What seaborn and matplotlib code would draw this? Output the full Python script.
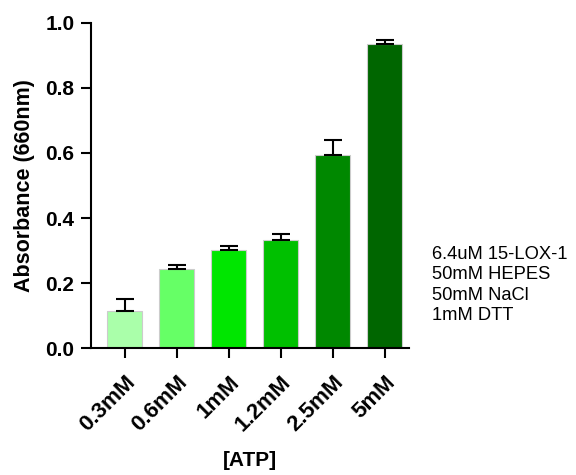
import matplotlib
matplotlib.use("Agg")
import matplotlib.pyplot as plt
import seaborn as sns
import pandas as pd

# data
conc = ["0.3mM", "0.6mM", "1mM", "1.2mM", "2.5mM", "5mM"]
absorb = [0.115, 0.242, 0.302, 0.331, 0.594, 0.935]
err = [0.035, 0.013, 0.012, 0.020, 0.046, 0.013]
bar_colors = ["#aaffaa", "#66ff66", "#00e600", "#00c000", "#008800", "#006600"]
buffer_lines = ["6.4uM 15-LOX-1", "50mM HEPES", "50mM NaCl", "1mM DTT"]

df = pd.DataFrame({"conc": conc, "abs": absorb})

sns.set_style("ticks")
plt.rcParams["font.family"] = ["Liberation Sans", "DejaVu Sans"]
for k in ["text.color", "axes.labelcolor", "xtick.color", "ytick.color", "axes.edgecolor"]:
    plt.rcParams[k] = "black"

fig = plt.figure(figsize=(5.76, 4.75), dpi=100)
ax = fig.add_axes([0.158, 0.267, 0.552, 0.685])

sns.barplot(data=df, x="conc", y="abs", hue="conc", palette=bar_colors,
            saturation=1, legend=False, width=0.68, edgecolor="#cccccc",
            linewidth=0.8, errorbar=None, ax=ax)
ax.errorbar(range(len(conc)), absorb, yerr=[[0] * len(err), err], fmt="none",
            ecolor="black", elinewidth=1.5, capsize=6.5, capthick=1.5, zorder=1)

ax.set_ylim(0, 1.0)
ax.set_xlim(-0.65, 5.47)
ax.set_yticks([0.0, 0.2, 0.4, 0.6, 0.8, 1.0])
ax.set_yticklabels(["0.0", "0.2", "0.4", "0.6", "0.8", "1.0"])
for s in ["top", "right"]:
    ax.spines[s].set_visible(False)
for s in ["left", "bottom"]:
    ax.spines[s].set_linewidth(1.5)
ax.tick_params(axis="y", width=1.5, length=7, pad=5, labelsize=15)
ax.tick_params(axis="x", width=1.5, length=7, pad=10, labelsize=16)
for lab in ax.get_yticklabels():
    lab.set_fontweight("bold")
for lab in ax.get_xticklabels():
    lab.set_fontweight("bold")
    lab.set_rotation(45)
    lab.set_ha("right")
    lab.set_rotation_mode("anchor")

ax.set_ylabel("Absorbance (660nm)", fontsize=15.5, fontweight="bold", labelpad=7)
ax.set_xlabel("[ATP]", fontsize=15, fontweight="bold", labelpad=11)

fig.text(0.75, 0.40, "\n".join(buffer_lines), fontsize=13.2, va="center",
         ha="left", linespacing=1.25)

fig.savefig("out.png", dpi=100)
